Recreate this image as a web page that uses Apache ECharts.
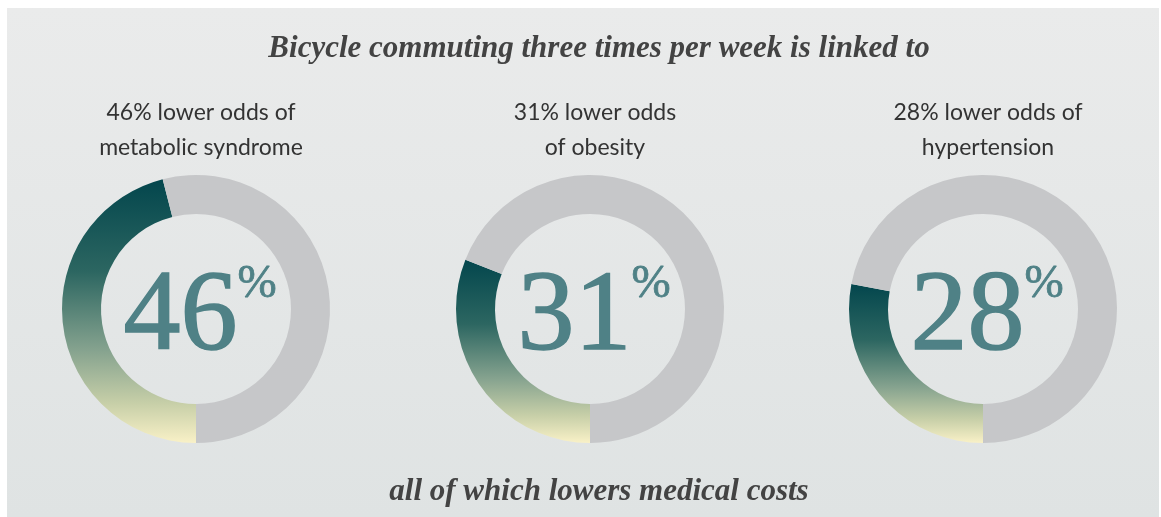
<!DOCTYPE html>
<html>
<head>
<meta charset="utf-8">
<script src="https://cdn.jsdelivr.net/npm/echarts@6/dist/echarts.min.js"></script>
<style>
  html, body { margin: 0; padding: 0; background: #ffffff; }
  #main { width: 1161px; height: 517px; }
</style>
</head>
<body>
<div id="main"></div>
<script>
var chartTitle = 'Bicycle commuting three times per week is linked to';
var chartFooter = 'all of which lowers medical costs';
var categories = ['46% lower odds of\nmetabolic syndrome', '31% lower odds\nof obesity', '28% lower odds of\nhypertension'];
var values = [46, 31, 28];

var centersX = [196, 590, 983];
var centerY = 309;

var ringGradient = {
	type: 'linear',
	x: 0, y: 0, x2: 0, y2: 1,
	colorStops: [
		{ offset: 0, color: '#03464d' },
		{ offset: 0.35, color: '#2c6661' },
		{ offset: 0.65, color: '#86a38f' },
		{ offset: 0.85, color: '#c7cfa8' },
		{ offset: 1, color: '#f9f1c7' }
	]
};

var myChart = echarts.init(document.getElementById('main'));

var bannerText = {
	fontFamily: 'Liberation Serif',
	fontStyle: 'italic',
	fontWeight: 'bold',
	fontSize: 31,
	color: '#434343'
};

var titles = [{
	text: chartTitle,
	left: 594,
	top: 28,
	textAlign: 'center',
	textStyle: bannerText
}, {
	text: chartFooter,
	left: 594,
	top: 471,
	textAlign: 'center',
	textStyle: bannerText
}];

var series = [];
for (var i = 0; i < values.length; i++) {
	titles.push({
		text: categories[i],
		left: centersX[i],
		top: 90,
		textAlign: 'center',
		textStyle: {
			fontFamily: 'Lato',
			fontWeight: 'normal',
			fontSize: 23,
			lineHeight: 35,
			color: '#333333'
		}
	});
	series.push({
		type: 'pie',
		center: [centersX[i], centerY],
		radius: [95, 134],
		startAngle: 270,
		clockwise: true,
		silent: true,
		animation: false,
		labelLine: { show: false },
		emphasis: { disabled: true },
		label: {
			show: true,
			position: 'center',
			offset: [4, 10],
			formatter: function (p) {
				return '{n|' + p.value + '}{p|%}';
			},
			rich: {
				n: {
					fontFamily: 'Liberation Serif',
					fontSize: 114,
					lineHeight: 116,
					color: '#4f8186',
					textBorderColor: '#4f8186',
					textBorderWidth: 1.5
				},
				p: {
					fontFamily: 'Liberation Serif',
					fontSize: 47,
					lineHeight: 47,
					verticalAlign: 'top',
					color: '#4f8186',
					textBorderColor: '#4f8186',
					textBorderWidth: 0.8
				}
			}
		},
		data: [{
			value: values[i],
			itemStyle: { color: ringGradient }
		}, {
			value: 100 - values[i],
			itemStyle: { color: '#c6c7c9' },
			label: { show: false }
		}]
	});
}

option = {
	backgroundColor: '#ffffff',
	graphic: [{
		type: 'rect',
		z: -10,
		silent: true,
		shape: { x: 7, y: 8, width: 1152, height: 509 },
		style: {
			fill: {
				type: 'linear',
				x: 0, y: 0, x2: 0, y2: 1,
				colorStops: [
					{ offset: 0, color: '#eaebeb' },
					{ offset: 1, color: '#dfe3e3' }
				]
			}
		}
	}],
	title: titles,
	series: series
};

myChart.setOption(option);
</script>
</body>
</html>
